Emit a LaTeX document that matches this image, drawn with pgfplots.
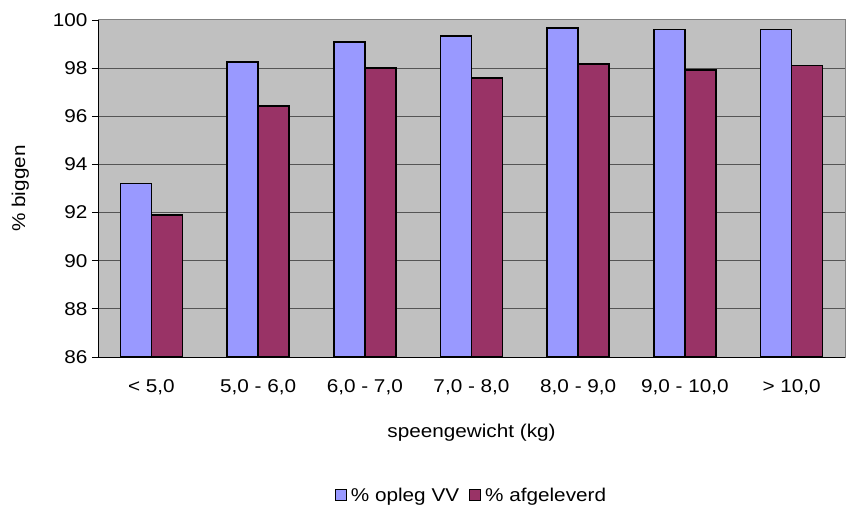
\documentclass[border=0pt]{standalone}
\usepackage{pgfplots}
\pgfplotsset{compat=1.18}
\usepackage{fontspec}
\setmainfont{Liberation Sans}[FakeStretch=1.12]
\definecolor{barblue}{HTML}{9999FF}
\definecolor{barred}{HTML}{993366}
\definecolor{plotbg}{HTML}{C0C0C0}
\definecolor{gridc}{HTML}{555555}
\pgfplotstableread{
x opleg afgel
0 93.2 91.9
1 98.25 96.42
2 99.08 98.0
3 99.33 97.6
4 99.67 98.18
5 99.6 97.93
6 99.6 98.1
}\datatable
\newcommand{\chartfont}{\fontsize{18.5bp}{22bp}\selectfont}
\begin{document}
\begin{tikzpicture}
\begin{axis}[
  scale only axis,
  width=747bp, height=337bp,
  ybar=0pt, bar width=31bp,
  xmin=-0.5, xmax=6.5,
  ymin=86, ymax=100,
  ytick={86,88,...,100},
  xtick={0,...,6},
  xticklabels={{< 5,0},{5,0 - 6,0},{6,0 - 7,0},{7,0 - 8,0},{8,0 - 9,0},{9,0 - 10,0},{> 10,0}},
  x tick style={draw=none},
  extra x ticks={0.5,1.5,2.5,3.5,4.5,5.5},
  extra x tick labels={},
  extra x tick style={major tick length=6bp, tick align=outside, tick style={draw=black, line width=0.8pt}, grid=none},
  y tick style={draw=black, line width=0.8pt},
  tick align=outside, major tick length=6bp,
  ymajorgrids, major grid style={gridc, line width=1pt},
  axis background/.style={fill=plotbg},
  axis line style={draw=gray, line width=1pt},
  every tick label/.append style={font=\chartfont},
  /pgf/number format/assume math mode=true,
  xticklabel style={yshift=-13bp},
  yticklabel style={xshift=-1bp},
  xlabel={speengewicht (kg)},
  ylabel={\% biggen},
  label style={font=\chartfont},
  xlabel style={at={(axis description cs:0.5,-0.2255)}, anchor=center},
  ylabel style={at={(axis description cs:-0.104,0.5)}, anchor=center},
  legend style={at={(0.5,-0.41)}, anchor=center, draw=none, fill=none,
    legend columns=2, font=\chartfont,
    /tikz/every odd column/.append style={column sep=2bp},
    /tikz/every even column/.append style={column sep=8bp}},
  legend image code/.code={\draw[#1, line width=1pt] (0bp,-5.5bp) rectangle (11bp,5.5bp);},
  clip=false,
]
\addplot[fill=barblue, draw=black, line width=1.5pt] table[x=x, y=opleg] {\datatable};
\addplot[fill=barred, draw=black, line width=1.5pt] table[x=x, y=afgel] {\datatable};
\legend{\% opleg VV, \% afgeleverd}
\draw[black, line width=1pt] (rel axis cs:0,1) -- (rel axis cs:0,0) -- (rel axis cs:1,0);
\end{axis}
\pgfresetboundingbox
\path[use as bounding box] ([xshift=-98bp,yshift=-154bp]current axis.south west) rectangle ([xshift=1bp,yshift=20bp]current axis.north east);
\end{tikzpicture}
\end{document}
